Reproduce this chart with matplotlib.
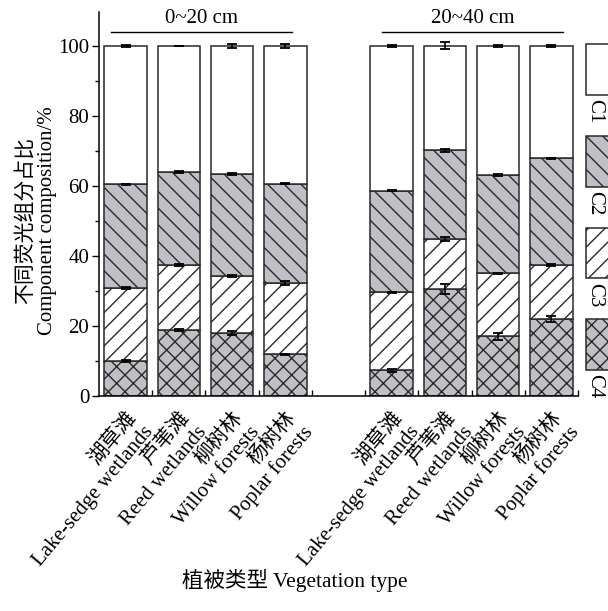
import matplotlib.pyplot as plt
import numpy as np
from matplotlib.patches import Rectangle

plt.rcParams['font.family'] = ['Liberation Serif', 'Noto Sans CJK SC']
plt.rcParams['hatch.linewidth'] = 1.0

# bar positions: two depth groups with an empty slot between them
pos = [0, 1, 2, 3, 5, 6, 7, 8]
labels_cn = ['湖草滩', '芦苇滩', '柳树林', '杨树林'] * 2
labels_en = ['Lake-sedge wetlands', 'Reed wetlands', 'Willow forests', 'Poplar forests'] * 2

# component shares (%), C4 at the bottom
c4 = [10.0, 18.8, 17.9, 11.9, 7.3, 30.5, 17.0, 21.9]
c3 = [20.8, 18.6, 16.4, 20.3, 22.3, 14.3, 18.0, 15.5]
c2 = [29.7, 26.6, 29.0, 28.5, 29.1, 25.4, 28.1, 30.5]
c1 = [39.5, 36.0, 36.7, 39.3, 41.3, 29.8, 36.9, 32.1]

# standard errors at each cumulative top
err4 = [0.2, 0.2, 0.6, 0.2, 0.4, 1.5, 0.9, 0.9]
err3 = [0.2, 0.2, 0.3, 0.6, 0.1, 0.6, 0.1, 0.4]
err2 = [0.2, 0.2, 0.3, 0.1, 0.2, 0.4, 0.3, 0.2]
err1 = [0.2, 0.1, 0.5, 0.7, 0.3, 1.0, 0.3, 0.4]

gray = '#bfbfc5'
edge = '#2a2a2a'
fs = 15
styles = [('C1', 'white', ''), ('C2', gray, '\\\\'), ('C3', 'white', '//'), ('C4', gray, 'xx')]

fig = plt.figure(figsize=(6.08, 6.11), dpi=100)
ax = fig.add_axes([99 / 608, 1 - 396 / 611, 479 / 608, 384 / 611])

layers = [('C4', c4, err4), ('C3', c3, err3), ('C2', c2, err2), ('C1', c1, err1)]
style = {n: (fc, h) for n, fc, h in styles}
bottom = np.zeros(len(pos))
for name, vals, err in layers:
    fc, h = style[name]
    vals = np.array(vals)
    ax.bar(pos, vals, width=0.8, bottom=bottom, color=fc, hatch=h,
           edgecolor=edge, linewidth=1.1, zorder=2)
    top = bottom + vals
    ax.errorbar(pos, top, yerr=err, fmt='none', ecolor='black',
                elinewidth=1.2, capsize=3.5, capthick=1.3, zorder=3)
    bottom = top

ax.set_xlim(-0.5, 8.5)
ax.set_ylim(0, 109.7)
ax.set_yticks(np.arange(0, 101, 20))
ax.set_yticks(np.arange(10, 100, 20), minor=True)
ax.set_xticks(pos)
ax.set_xticks(np.arange(0.5, 8.6, 1), minor=True)
ax.set_xticklabels([f'{c}\n{e}' for c, e in zip(labels_cn, labels_en)],
                   rotation=50, ha='right', va='top', rotation_mode='anchor',
                   multialignment='right', fontsize=fs, linespacing=1.2)
ax.tick_params(axis='x', which='major', length=0, pad=9)
ax.tick_params(axis='x', which='minor', direction='in', length=4, width=1)
ax.tick_params(axis='y', which='major', direction='out', length=5, width=1, labelsize=fs, pad=2)
ax.tick_params(axis='y', which='minor', direction='out', length=3, width=1)
for s in ['top', 'right']:
    ax.spines[s].set_visible(False)
for s in ['left', 'bottom']:
    ax.spines[s].set_linewidth(1.1)

ax.set_ylabel('不同荧光组分占比\nComponent composition/%', fontsize=fs, labelpad=1, linespacing=1.15)
ax.yaxis.label.set_y(0.456)
fig.text(295 / 608, 1 - 580 / 611, '植被类型 Vegetation type', fontsize=fs + 0.5,
         ha='center', va='center')

# depth group headers
for x0, x1, txt in [(-0.27, 3.13, '0~20 cm'), (4.82, 8.22, '20~40 cm')]:
    ax.plot([x0, x1], [104, 104], color='black', lw=1, clip_on=False)
    ax.text((x0 + x1) / 2, 105.2, txt, ha='center', va='bottom', fontsize=fs)

# legend boxes at the right edge, labels turned downward
for i, (name, fc, h) in enumerate(styles):
    y0 = 86 - 26.2 * i
    ax.add_patch(Rectangle((8.65, y0), 0.6, 14.5, facecolor=fc, hatch=h,
                           edgecolor=edge, linewidth=1.1, clip_on=False))
    ax.text(8.82, y0 - 1.2, name, rotation=270, ha='center', va='top', fontsize=fs)

fig.savefig('out.png', dpi=100)
